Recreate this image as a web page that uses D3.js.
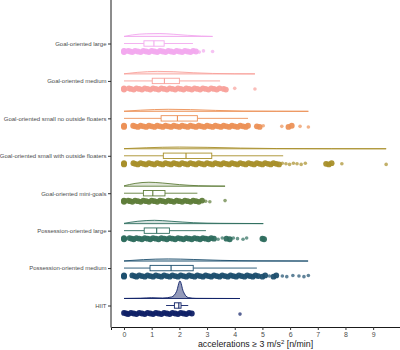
<!DOCTYPE html>
<html>
<head>
<meta charset="utf-8">
<script src="https://cdn.jsdelivr.net/npm/d3@7"></script>
<style>
  body { margin: 0; background: #fff; }
  svg { display: block; font-family: "Liberation Sans", Arial, sans-serif; }
</style>
</head>
<body>
<div id="chart"></div>
<script>
const categories = [
    'Goal-oriented large',
    'Goal-oriented medium',
    'Goal-oriented small no outside floaters',
    'Goal-oriented small with outside floaters',
    'Goal-oriented mini-goals',
    'Possession-oriented large',
    'Possession-oriented medium',
    'HIIT'
];

const colors = ['#f2a9ee', '#f8a19b', '#ec9157', '#a88f2a', '#5f7d3a', '#2e6d5e', '#1d4f6e', '#0f2066'];

// box stats: [whiskerLow, q1, median, q3, whiskerHigh]
const boxStats = [
    [0, 0.72, 1.08, 1.45, 2.49],
    [0, 1.02, 1.46, 2.00, 3.47],
    [0, 1.34, 1.93, 2.65, 4.48],
    [0, 1.42, 2.24, 3.17, 5.75],
    [0, 0.70, 1.04, 1.48, 2.65],
    [0, 0.73, 1.18, 1.64, 2.96],
    [0, 0.94, 1.70, 2.50, 4.80],
    [1.52, 1.82, 1.98, 2.06, 2.32]
];

// half-violin densities: [value, density]
const densities = [
    [[0, 0.02], [0.3, 0.2], [0.8, 0.35], [1.3, 0.38], [1.8, 0.28], [2.3, 0.15], [2.8, 0.06], [3.2, 0.02]],
    [[0, 0.02], [0.5, 0.2], [1.2, 0.32], [1.8, 0.28], [2.5, 0.15], [3.2, 0.06], [4.0, 0.02], [4.73, 0.01]],
    [[0, 0.02], [0.6, 0.15], [1.6, 0.26], [2.4, 0.22], [3.3, 0.12], [4.3, 0.04], [5.5, 0.02], [6.66, 0.01]],
    [[0, 0.02], [0.8, 0.13], [2.0, 0.22], [3.0, 0.18], [4.2, 0.09], [5.5, 0.03], [7.5, 0.01], [9.47, 0.005]],
    [[0, 0.05], [0.4, 0.35], [0.9, 0.5], [1.4, 0.4], [2.0, 0.2], [2.7, 0.06], [3.65, 0.01]],
    [[0, 0.04], [0.5, 0.3], [1.1, 0.42], [1.7, 0.3], [2.5, 0.12], [3.5, 0.04], [5.03, 0.01]],
    [[0, 0.02], [0.7, 0.18], [1.6, 0.27], [2.5, 0.2], [3.5, 0.09], [4.8, 0.03], [6.65, 0.01]],
    [[0, 0.01], [0.6, 0.04], [1.0, 0.1], [1.4, 0.06], [1.72, 0.2], [1.9, 0.9], [2.02, 2.2], [2.14, 0.9], [2.32, 0.12], [2.6, 0.02], [3.2, 0.01], [4.19, 0]]
];

const pointsGoalLarge = [0, 0, 0, 0.15, 0.22, 0.3, 0.4, 0.5, 0.6, 0.7, 0.8, 0.9, 1.0, 1.1, 1.2, 1.3, 1.4, 1.5, 1.6, 1.7,
    1.8, 1.9, 2.0, 2.1, 2.2, 2.3, 2.4, 2.5, 2.6, 2.72, 2.87, 3.2];
const pointsGoalMedium = [0, 0, 0, 0.18, 0.25, 0.35, 0.45, 0.55, 0.65, 0.75, 0.85, 0.95, 1.05, 1.15, 1.25, 1.35, 1.45,
    1.55, 1.65, 1.75, 1.85, 1.95, 2.05, 2.15, 2.25, 2.35, 2.45, 2.55, 2.65, 2.75, 2.85, 2.95, 3.05, 3.15, 3.25,
    3.35, 3.45, 3.6, 3.68, 4.0, 4.73];
const pointsGoalSmallNo = [0, 0, 0, 0.33, 0.4, 0.5, 0.6, 0.7, 0.8, 0.9, 1.0, 1.1, 1.2, 1.3, 1.4, 1.5, 1.6, 1.7, 1.8,
    1.9, 2.0, 2.1, 2.2, 2.3, 2.4, 2.5, 2.6, 2.7, 2.8, 2.9, 3.0, 3.1, 3.2, 3.3, 3.4, 3.5, 3.6, 3.7, 3.8, 3.9, 4.0,
    4.1, 4.2, 4.3, 4.4, 4.48, 4.8, 4.9, 5.03, 5.7, 5.94, 6.06, 6.36, 6.66];
const pointsGoalSmallWith = [0, 0, 0, 0.34, 0.4, 0.5, 0.6, 0.7, 0.8, 0.9, 1.0, 1.1, 1.2, 1.3, 1.4, 1.5, 1.6, 1.7, 1.8,
    1.9, 2.0, 2.1, 2.2, 2.3, 2.4, 2.5, 2.6, 2.7, 2.8, 2.9, 3.0, 3.1, 3.2, 3.3, 3.4, 3.5, 3.6, 3.7, 3.8, 3.9, 4.0,
    4.1, 4.2, 4.3, 4.4, 4.5, 4.6, 4.7, 4.8, 4.9, 5.0, 5.1, 5.2, 5.3, 5.4, 5.5, 5.6, 5.72, 5.85, 5.98, 6.12, 6.25,
    6.4, 6.55, 7.3, 7.4, 7.5, 7.87, 9.47];
const pointsMiniGoals = [0, 0, 0, 0.15, 0.22, 0.3, 0.4, 0.5, 0.6, 0.7, 0.8, 0.9, 1.0, 1.1, 1.2, 1.3, 1.4, 1.5, 1.6,
    1.7, 1.8, 1.9, 2.0, 2.1, 2.2, 2.3, 2.4, 2.5, 2.6, 2.7, 2.82, 2.95, 3.1, 3.65];
const pointsPossLarge = [0, 0, 0, 0.2, 0.28, 0.35, 0.45, 0.55, 0.65, 0.75, 0.85, 0.95, 1.05, 1.15, 1.25, 1.35, 1.45,
    1.55, 1.65, 1.75, 1.85, 1.95, 2.05, 2.15, 2.25, 2.35, 2.45, 2.55, 2.65, 2.75, 2.85, 2.95, 3.05, 3.15, 3.25,
    3.4, 3.55, 3.7, 3.82, 3.95, 4.1, 4.3, 4.43, 5.0, 5.06];
const pointsPossMedium = [0, 0, 0, 0.3, 0.38, 0.45, 0.55, 0.65, 0.75, 0.85, 0.95, 1.05, 1.15, 1.25, 1.35, 1.45, 1.55,
    1.65, 1.75, 1.85, 1.95, 2.05, 2.15, 2.25, 2.35, 2.45, 2.55, 2.65, 2.75, 2.85, 2.95, 3.05, 3.15, 3.25, 3.35,
    3.45, 3.55, 3.65, 3.75, 3.85, 3.95, 4.05, 4.15, 4.25, 4.35, 4.45, 4.55, 4.65, 4.75, 4.85, 5.0, 5.1, 5.25,
    5.4, 5.5, 5.72, 5.88, 6.1, 6.32, 6.5, 6.66];
const pointsHIIT = [0, 0.08, 0.15, 0.25, 0.35, 0.45, 0.55, 0.65, 0.75, 0.85, 0.95, 1.05, 1.15, 1.25, 1.35, 1.45,
    1.55, 1.65, 1.75, 1.85, 1.95, 2.05, 2.15, 2.25, 2.35, 2.45, 4.19];

const points = [pointsGoalLarge, pointsGoalMedium, pointsGoalSmallNo, pointsGoalSmallWith,
    pointsMiniGoals, pointsPossLarge, pointsPossMedium, pointsHIIT];

const xTicks = [0, 1, 2, 3, 4, 5, 6, 7, 8, 9];

const width = 400;
const height = 350;
const plotLeft = 111;
const plotBottom = 327;

const svg = d3.select('#chart')
    .append('svg')
    .attr('width', width)
    .attr('height', height);

const xScale = d3.scaleLinear()
    .domain([-0.47, 9.97])
    .range([plotLeft, width]);

const yScale = d3.scalePoint()
    .domain(categories)
    .range([43.5, 305.5]);

// density px per unit
const dScale = d3.scaleLinear()
    .domain([0, 2.2])
    .range([0, 17.5]);

const groups = svg.selectAll('g.group')
    .data(categories)
    .enter()
    .append('g')
    .attr('class', 'group')
    .attr('transform', d => `translate(0, ${yScale(d)})`);

// half violins
groups.each(function(cat, i) {
    const g = d3.select(this);
    const base = -7;
    const area = d3.area()
        .x(d => xScale(d[0]))
        .y0(base)
        .y1(d => base - dScale(d[1]))
        .curve(d3.curveMonotoneX);
    const line = d3.line()
        .x(d => xScale(d[0]))
        .y(d => base - dScale(d[1]))
        .curve(d3.curveMonotoneX);
    const dens = densities[i];

    g.append('path')
        .attr('d', area(dens))
        .attr('fill', colors[i])
        .attr('fill-opacity', i === 7 ? 0.45 : 0.2);

    g.append('line')
        .attr('x1', xScale(dens[0][0]))
        .attr('x2', xScale(dens[dens.length - 1][0]))
        .attr('y1', base)
        .attr('y2', base)
        .attr('stroke', colors[i])
        .attr('stroke-width', 0.9);

    g.append('path')
        .attr('d', line(dens))
        .attr('fill', 'none')
        .attr('stroke', colors[i])
        .attr('stroke-width', 0.9);
});

// jittered points; isolated observations drawn smaller
groups.each(function(cat, i) {
    const g = d3.select(this);
    const vals = points[i];
    const isolated = (d, j) => {
        const prev = j > 0 ? d - vals[j - 1] : Infinity;
        const next = j < vals.length - 1 ? vals[j + 1] - d : Infinity;
        return Math.min(prev, next) > 0.12;
    };
    g.selectAll('circle')
        .data(vals)
        .enter()
        .append('circle')
        .attr('cx', d => xScale(d))
        .attr('cy', (d, j) => 8 + ((j * 7) % 3 - 1) * 0.6)
        .attr('r', (d, j) => isolated(d, j) ? 1.8 : 2.9)
        .attr('fill', colors[i])
        .attr('fill-opacity', (d, j) => isolated(d, j) ? 0.7 : 0.95);
});

// box plots
groups.each(function(cat, i) {
    const g = d3.select(this);
    const s = boxStats[i];
    const half = 2.7;

    g.append('line')
        .attr('x1', xScale(s[0])).attr('x2', xScale(s[1]))
        .attr('y1', 0).attr('y2', 0)
        .attr('stroke', colors[i]).attr('stroke-width', 0.9);
    g.append('line')
        .attr('x1', xScale(s[3])).attr('x2', xScale(s[4]))
        .attr('y1', 0).attr('y2', 0)
        .attr('stroke', colors[i]).attr('stroke-width', 0.9);

    g.append('rect')
        .attr('x', xScale(s[1]))
        .attr('y', -half)
        .attr('width', xScale(s[3]) - xScale(s[1]))
        .attr('height', half * 2)
        .attr('fill', '#fff')
        .attr('stroke', colors[i])
        .attr('stroke-width', 0.9);

    g.append('line')
        .attr('x1', xScale(s[2])).attr('x2', xScale(s[2]))
        .attr('y1', -half).attr('y2', half)
        .attr('stroke', colors[i]).attr('stroke-width', 1.1);
});

// x axis
const xAxis = d3.axisBottom(xScale)
    .tickValues(xTicks)
    .tickSizeOuter(0)
    .tickSize(3)
    .tickPadding(2);

const xg = svg.append('g')
    .attr('transform', `translate(0, ${plotBottom})`)
    .call(xAxis);
xg.select('.domain').attr('stroke', '#1a1a1a').attr('stroke-width', 1);
xg.selectAll('.tick line').attr('stroke', '#333');
xg.selectAll('.tick text').attr('fill', '#4d4d4d').style('font-size', '7px');

// y axis
const yAxis = d3.axisLeft(yScale)
    .tickSizeOuter(0)
    .tickSize(3)
    .tickPadding(1.5);

const yg = svg.append('g')
    .attr('transform', `translate(${plotLeft}, 0)`)
    .call(yAxis);
yg.select('.domain').remove();
yg.selectAll('.tick line').attr('stroke', '#333');
yg.selectAll('.tick text').attr('fill', '#4d4d4d').style('font-size', '6px');

svg.append('line')
    .attr('x1', plotLeft).attr('x2', plotLeft)
    .attr('y1', 0).attr('y2', plotBottom + 0.5)
    .attr('stroke', '#1a1a1a')
    .attr('stroke-width', 1);

// axis title
const title = svg.append('text')
    .attr('x', (plotLeft + width) / 2)
    .attr('y', 347)
    .attr('text-anchor', 'middle')
    .attr('fill', '#1a1a1a')
    .style('font-size', '8.8px');
title.append('tspan').text('accelerations ≥ 3 m/s');
title.append('tspan').attr('dy', -3).style('font-size', '6px').text('2');
title.append('tspan').attr('dy', 3).text(' [n/min]');
</script>
</body>
</html>
